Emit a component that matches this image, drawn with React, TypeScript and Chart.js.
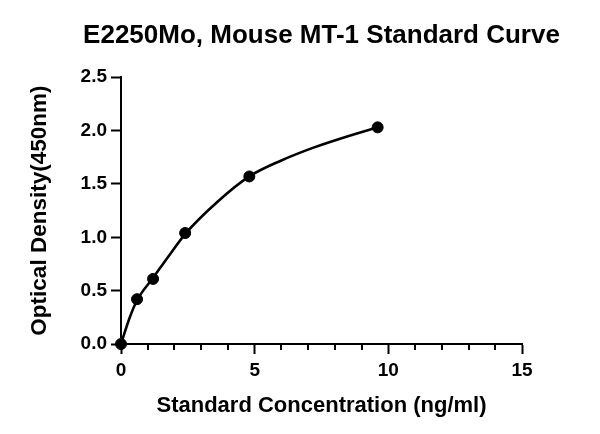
import React, { useEffect, useRef } from "react";
import { Chart, registerables } from "chart.js";

Chart.register(...registerables);

const titleText = "E2250Mo, Mouse MT-1 Standard Curve";
const xTitle = "Standard Concentration (ng/ml)";
const yTitle = "Optical Density(450nm)";
// measured standards
const concentrations = [0, 0.6, 1.2, 2.4, 4.8, 9.6];
const odValues = [0, 0.42, 0.61, 1.04, 1.57, 2.03];
// fitted curve, values
const curveX = [0, 0.3, 0.6, 1.2, 1.8, 2.4, 3.6, 4.8, 6, 7.2, 8.4, 9.6];
const curveY = [0, 0.23, 0.41, 0.62, 0.83, 1.03, 1.33, 1.57, 1.72, 1.84, 1.94, 2.03];
const xMinorTicks = [1, 2, 3, 4, 6, 7, 8, 9, 11, 12, 13, 14];

const FONT = "'Liberation Sans', Arial, Helvetica, sans-serif";

const minorTickPlugin = {
  id: "minorTicks",
  afterDraw(chart: any) {
    const xs = chart.scales.x;
    const ctx = chart.ctx;
    ctx.save();
    ctx.strokeStyle = "#000";
    ctx.lineWidth = 2;
    const y0 = xs.top;
    for (const v of xMinorTicks) {
      const px = Math.round(xs.getPixelForValue(v));
      ctx.beginPath();
      ctx.moveTo(px, y0);
      ctx.lineTo(px, y0 + 6);
      ctx.stroke();
    }
    ctx.restore();
  },
};

// keep the title centred over the plot area without squeezing its text
const titleWidthPlugin = {
  id: "titleWidth",
  afterLayout(chart: any) {
    const tb = chart.titleBlock;
    if (!tb) return;
    const c = (chart.chartArea.left + chart.chartArea.right) / 2;
    tb.left = c - 300;
    tb.right = c + 300;
    tb.width = 600;
  },
};

export default function App() {
  const ref = useRef<HTMLCanvasElement | null>(null);
  useEffect(() => {
    document.body.style.margin = "0";
    const canvas = ref.current!;
    const chart = new Chart(canvas, {
      type: "scatter",
      data: {
        datasets: [
          {
            data: concentrations.map((c, i) => ({ x: c, y: odValues[i] })),
            showLine: false,
            borderColor: "#000",
            backgroundColor: "#000",
            pointRadius: 5.5,
            pointHoverRadius: 5.5,
            clip: false,
          } as any,
          {
            data: curveX.map((c, i) => ({ x: c, y: curveY[i] })),
            showLine: true,
            cubicInterpolationMode: "monotone",
            borderColor: "#000",
            backgroundColor: "#000",
            borderWidth: 2.6,
            pointRadius: 0,
            pointHoverRadius: 0,
            clip: false,
          } as any,
        ],
      },
      options: {
        animation: false,
        responsive: false,
        events: [],
        layout: { padding: { left: 0, right: 78, top: 0, bottom: 0 } },
        plugins: {
          legend: { display: false },
          tooltip: { enabled: false },
          title: {
            display: true,
            text: titleText,
            fullSize: false,
            color: "#000",
            font: { family: FONT, size: 26, weight: "bold" },
            padding: { top: 20, bottom: 26 },
          },
        },
        scales: {
          x: {
            type: "linear",
            min: 0,
            max: 15,
            afterFit(scale: any) {
              scale.height = 90;
            },
            border: { display: true, color: "#000", width: 2 },
            grid: {
              display: true,
              drawOnChartArea: false,
              drawTicks: true,
              tickLength: 10,
              tickWidth: 2,
              tickColor: "#000",
            },
            ticks: {
              stepSize: 5,
              color: "#000",
              padding: 5,
              font: { family: FONT, size: 19, weight: "bold" },
              maxRotation: 0,
            },
            title: {
              display: true,
              text: xTitle,
              color: "#000",
              font: { family: FONT, size: 22, weight: "bold" },
              padding: { top: 0, bottom: 15 },
            },
          },
          y: {
            type: "linear",
            min: 0,
            max: 2.5,
            afterFit(scale: any) {
              scale.width = 121;
            },
            border: { display: true, color: "#000", width: 2 },
            grid: {
              display: true,
              drawOnChartArea: false,
              drawTicks: true,
              tickLength: 10,
              tickWidth: 2,
              tickColor: "#000",
            },
            ticks: {
              stepSize: 0.5,
              color: "#000",
              padding: 4,
              font: { family: FONT, size: 19, weight: "bold" },
              callback: (v: any) => Number(v).toFixed(1),
            },
            title: {
              display: true,
              text: yTitle,
              color: "#000",
              font: { family: FONT, size: 22.5, weight: "bold" },
              padding: { top: 26, bottom: 0 },
            },
          },
        },
      },
      plugins: [minorTickPlugin, titleWidthPlugin],
    });
    return () => chart.destroy();
  }, []);
  return (
    <div style={{ width: 600, height: 434, background: "#fff" }}>
      <canvas ref={ref} width={600} height={434} style={{ display: "block" }} />
    </div>
  );
}
